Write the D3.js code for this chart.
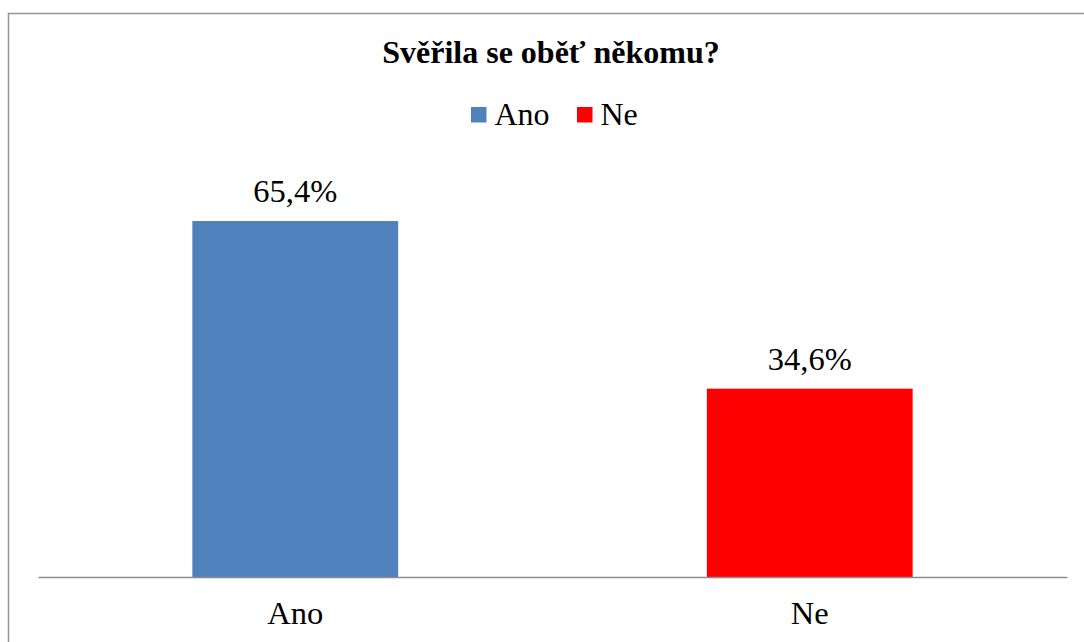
<!DOCTYPE html>
<html><head><meta charset="utf-8">
<script src="https://cdn.jsdelivr.net/npm/d3@7"></script>
<style>html,body{margin:0;padding:0;background:#fff;} svg{display:block;} svg text{font-family:"Liberation Serif","Times New Roman",Times,serif;}</style>
</head><body>
<script>
const categories = ["Ano", "Ne"];
const values = [65.4, 34.6];
const colors = ["#4f81bd", "#ff0000"];
const valueLabels = ["65,4%", "34,6%"];
const title = "Svěřila se oběť někomu?";

const W = 1084, H = 642;
const svg = d3.select("body").append("svg").attr("width", W).attr("height", H);

svg.append("rect").attr("x", 8.5).attr("y", 13.5).attr("width", 1100).attr("height", 700)
  .attr("fill", "#fff").attr("stroke", "#959595").attr("stroke-width", 1.5);

const x = d3.scaleBand().domain(categories).range([38, 1067]).paddingInner(0.6).paddingOuter(0.3);
const y = d3.scaleLinear().domain([0, 70]).range([577, 196]);

svg.append("text").attr("x", 551).attr("y", 63).attr("text-anchor", "middle")
  .attr("font-weight", "bold").attr("font-size", 32).text(title);

// legend
const legendX = [471, 577];
categories.forEach((c, i) => {
  svg.append("rect").attr("x", legendX[i]).attr("y", 107).attr("width", 15.5).attr("height", 15.5).attr("fill", colors[i]);
  svg.append("text").attr("x", legendX[i] + 23.5).attr("y", 124.5)
    .attr("font-size", 32).text(c);
});

svg.selectAll("rect.bar").data(values).join("rect").attr("class", "bar")
  .attr("x", (d, i) => x(categories[i])).attr("width", x.bandwidth())
  .attr("y", d => y(d)).attr("height", d => y(0) - y(d)).attr("fill", (d, i) => colors[i]);

svg.selectAll("text.vl").data(values).join("text").attr("class", "vl")
  .attr("x", (d, i) => x(categories[i]) + x.bandwidth() / 2).attr("y", d => y(d) - 19)
  .attr("text-anchor", "middle").attr("font-size", 32.5)
  .text((d, i) => valueLabels[i]);

const axis = svg.append("g").attr("transform", "translate(0,577)")
  .call(d3.axisBottom(x).tickSize(0).tickPadding(0));
axis.attr("font-family", null);
axis.select(".domain").attr("stroke", "#8c8c8c").attr("stroke-width", 1.5);
axis.selectAll("text").attr("font-size", 32.5).attr("fill", "#000")
  .attr("dy", null).attr("y", 46.5);
</script>
</body></html>
